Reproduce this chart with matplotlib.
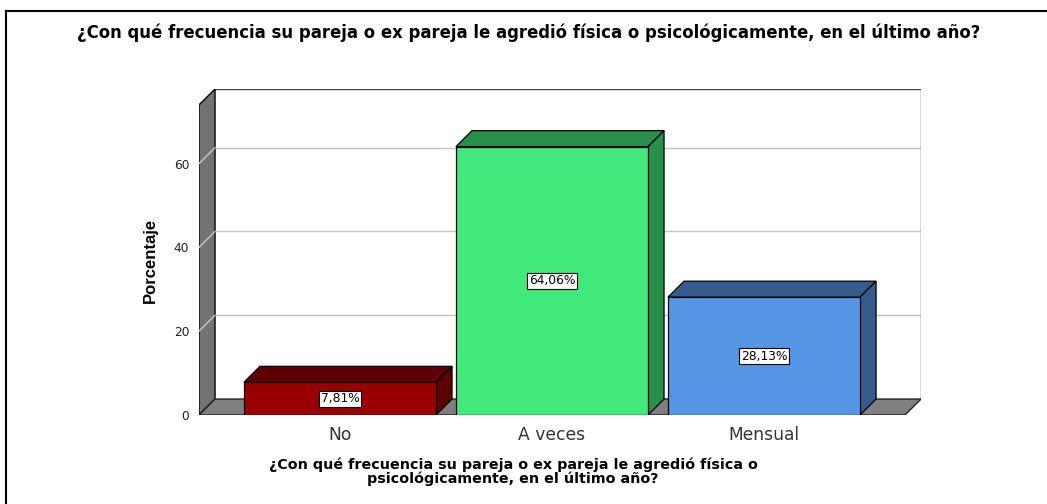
import numpy as np
import matplotlib.pyplot as plt
from matplotlib.patches import Polygon
from matplotlib.lines import Line2D

categories = ['No', 'A veces', 'Mensual']
percentages = [7.81, 64.06, 28.13]
labels = ['7,81%', '64,06%', '28,13%']
front_colors = ['#990000', '#41e97c', '#5596e4']
depth_colors = ['#5e0000', '#27904b', '#355c8c']
yticks = [0, 20, 40, 60]

title = '¿Con qué frecuencia su pareja o ex pareja le agredió física o psicológicamente, en el último año?'
xlabel = '¿Con qué frecuencia su pareja o ex pareja le agredió física o\npsicológicamente, en el último año?'

plt.rcParams['font.family'] = ['DejaVu Sans']

W, H = 1047, 504
fig = plt.figure(figsize=(W / 100, H / 100), dpi=100)

# axes box covers front floor line up to the top of the back wall
ax = fig.add_axes([199 / W, (H - 415) / H, (921 - 199) / W, (415 - 89) / H])

ymax = 74.0
dx, dy = 0.0755, 3.81      # 3d depth in data units
x0, x1 = -0.665, 2.665     # front floor extent
bar_w = 0.906

ax.set_xlim(x0, x1 + dx)
ax.set_ylim(0, ymax + dy)
for s in ax.spines.values():
    s.set_visible(False)

# back wall + gridlines
ax.add_patch(Polygon([(x0 + dx, dy), (x1 + dx, dy), (x1 + dx, ymax + dy), (x0 + dx, ymax + dy)],
                     closed=True, facecolor='white', edgecolor='none', zorder=0))
for t in yticks[1:]:
    ax.plot([x0 + dx, x1 + dx], [t + dy, t + dy], color='#c4c4c4', lw=1, zorder=1)
ax.plot([x0 + dx, x1 + dx, x1 + dx], [ymax + dy, ymax + dy, dy], color='#444444', lw=1, zorder=1)

# left wall
ax.add_patch(Polygon([(x0, 0), (x0 + dx, dy), (x0 + dx, ymax + dy), (x0, ymax)],
                     closed=True, facecolor='#737373', edgecolor='#111111', lw=1.1, zorder=2))
for t in yticks[1:]:
    ax.plot([x0, x0 + dx], [t, t + dy], color='#c8c8c8', lw=1, zorder=3)

# floor
ax.add_patch(Polygon([(x0, 0), (x1, 0), (x1 + dx, dy), (x0 + dx, dy)],
                     closed=True, facecolor='#7f7f7f', edgecolor='#222222', lw=1, zorder=2))

x = np.arange(len(categories))
bars = ax.bar(x, percentages, width=bar_w, color=front_colors, edgecolor='black', lw=0.9, zorder=5)

for bar, v, c, lab in zip(bars, percentages, depth_colors, labels):
    l = bar.get_x()
    r = l + bar.get_width()
    ax.add_patch(Polygon([(l, v), (l + dx, v + dy), (r + dx, v + dy), (r, v)],
                         closed=True, facecolor=c, edgecolor='black', lw=0.9, zorder=4))
    ax.add_patch(Polygon([(r, 0), (r + dx, dy), (r + dx, v + dy), (r, v)],
                         closed=True, facecolor=c, edgecolor='black', lw=0.9, zorder=4))
    ax.text(l + bar.get_width() / 2, v / 2, lab, ha='center', va='center', fontsize=8.8,
            color='black', zorder=6,
            bbox=dict(boxstyle='square,pad=0.12', facecolor='white', edgecolor='black', lw=0.8))

ax.set_xticks(x)
ax.set_xticklabels(categories, fontsize=12.3, color='#333333')
ax.set_yticks(yticks)
ax.set_yticklabels([str(t) for t in yticks], fontsize=8.8, color='#222222')
ax.tick_params(axis='both', length=0)
ax.tick_params(axis='x', pad=8)
ax.tick_params(axis='y', pad=7)

fig.text(150 / W, 1 - 260 / H, 'Porcentaje', rotation=90, ha='center', va='center',
         fontsize=12, fontweight='bold', family=['Liberation Sans'])
fig.text(529 / W, 1 - 33 / H, title, ha='center', va='center', fontsize=11.9, fontweight='bold')
fig.text(513 / W, 1 - 472 / H, xlabel, ha='center', va='center', fontsize=10.3,
         fontweight='bold', linespacing=0.95)

# outer frame (only top and left visible in the crop)
fig.add_artist(Line2D([6 / W, 1], [1 - 11 / H, 1 - 11 / H], color='black', lw=1.5))
fig.add_artist(Line2D([6 / W, 6 / W], [1 - 11 / H, 0], color='black', lw=1.5))

fig.savefig('out.png', dpi=100)
